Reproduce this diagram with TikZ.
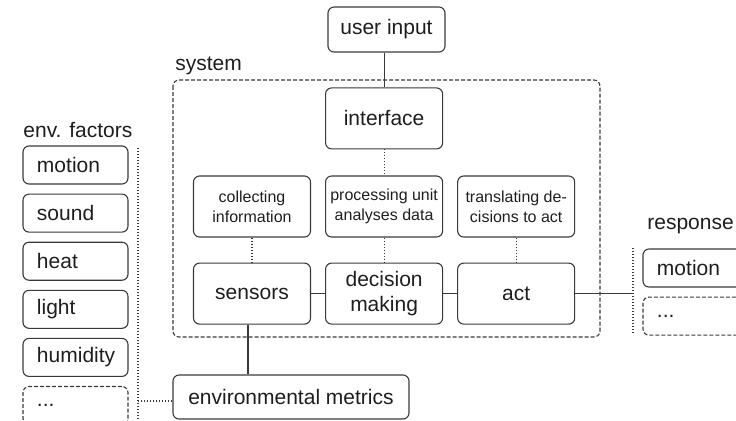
\documentclass[tikz,border=0pt]{standalone}
\usepackage{fontspec}
\setmainfont{Liberation Sans}
\usepackage{tikz}
\usetikzlibrary{positioning,calc}
\definecolor{Ink}{HTML}{1E1E1E}
\definecolor{Rule}{HTML}{3A3A3A}
\tikzset{
  every node/.append style={text=Ink},
  box/.style={draw=Rule, line width=0.55pt, rounded corners=3pt, align=center,
              minimum width=58.5pt, minimum height=30.5pt, inner sep=1pt,
              font=\fontsize{10.5}{12.5}\selectfont},
  smallbox/.style={box, font=\fontsize{8}{10}\selectfont},
  factor/.style={draw=Rule, line width=0.55pt, rounded corners=3pt, align=left,
                 text width=45.5pt, inner xsep=3.5pt, inner ysep=0pt,
                 minimum height=19pt, font=\fontsize{10.5}{12.5}\selectfont,
                 execute at begin node=\hspace*{3.5pt}},
  morefactor/.style={factor, dashed, dash pattern=on 2pt off 1pt},
  frame/.style={draw=Rule, line width=0.55pt, rounded corners=3pt,
                dash pattern=on 2pt off 1pt},
  link/.style={draw=Rule, line width=0.55pt},
  dotlink/.style={draw=Rule, line width=0.55pt, dash pattern=on 0.5pt off 1pt},
  tag/.style={font=\fontsize{10.5}{12.5}\selectfont, inner sep=0pt},
}
\begin{document}
\begin{tikzpicture}[x=0.5pt, y=-0.5pt, node distance=7pt]
  \useasboundingbox (0,0) rectangle (736,420);
  % system
  \draw[frame] (173,80) rectangle (600,337);
  \node[tag, anchor=west] (syslabel) at (175,66) {system};
  \node[smallbox] (collect) at (252,206.5) {collecting\\information};
  \node[smallbox, right=of collect] (process) {processing unit\\analyses data};
  \node[smallbox, right=of process] (translate) {translating de-\\cisions to act};
  \node[box, below=12.5pt of collect] (sensors) {sensors};
  \node[box, below=12.5pt of process] (decision) {decision\\making};
  \node[box, below=12.5pt of translate] (act) {act};
  \node[box, above=13pt of process] (interface) {interface};
  \node[box, minimum height=22.5pt] (userin) at (386.5,29.5) {user input};
  \node[box, minimum width=118pt, minimum height=22pt] (envmetrics) at (291,397) {environmental metrics};
  % env. factors
  \node[tag, anchor=west] (envlabel) at (23,130) {env. factors};
  \node[factor] (fmotion) at (75.5,165) {motion};
  \node[factor, below=4.5pt of fmotion] (fsound) {sound};
  \node[factor, below=4.5pt of fsound] (fheat) {heat};
  \node[factor, below=4.5pt of fheat] (flight) {light};
  \node[factor, below=4.5pt of flight] (fhumid) {humidity};
  \node[morefactor, below=4.5pt of fhumid] (fmore) {...};
  \coordinate (ftop) at (138,148);
  \coordinate (fbot) at (138,420);
  % response
  \node[tag, anchor=west] (resplabel) at (647,226) {response};
  \node[factor] (rmotion) at (695.5,268) {motion};
  \node[morefactor, below=4.5pt of rmotion] (rmore) {...};
  \coordinate (rtop) at (633,248);
  \coordinate (rbot) at (633,333);
  % connectors
  \draw[link] (interface.north) -- (interface.north |- userin.south);
  \draw[dotlink] (interface) -- (process);
  \draw[dotlink] (collect) -- (sensors);
  \draw[dotlink] (process) -- (decision);
  \draw[dotlink] (translate) -- (act);
  \draw[link] (sensors) -- (decision);
  \draw[link] (decision) -- (act);
  \draw[link] ([xshift=-2pt]sensors.south) -- ([xshift=-2pt]sensors.south |- envmetrics.north);
  \draw[dotlink] (ftop) -- (fbot);
  \draw[dotlink] ([yshift=-2pt]envmetrics.west) -- ([yshift=-2pt]envmetrics.west -| ftop);
  \draw[dotlink] (rtop) -- (rbot);
  \draw[link] (act.east) -- (act.east -| rtop);
\end{tikzpicture}
\end{document}
